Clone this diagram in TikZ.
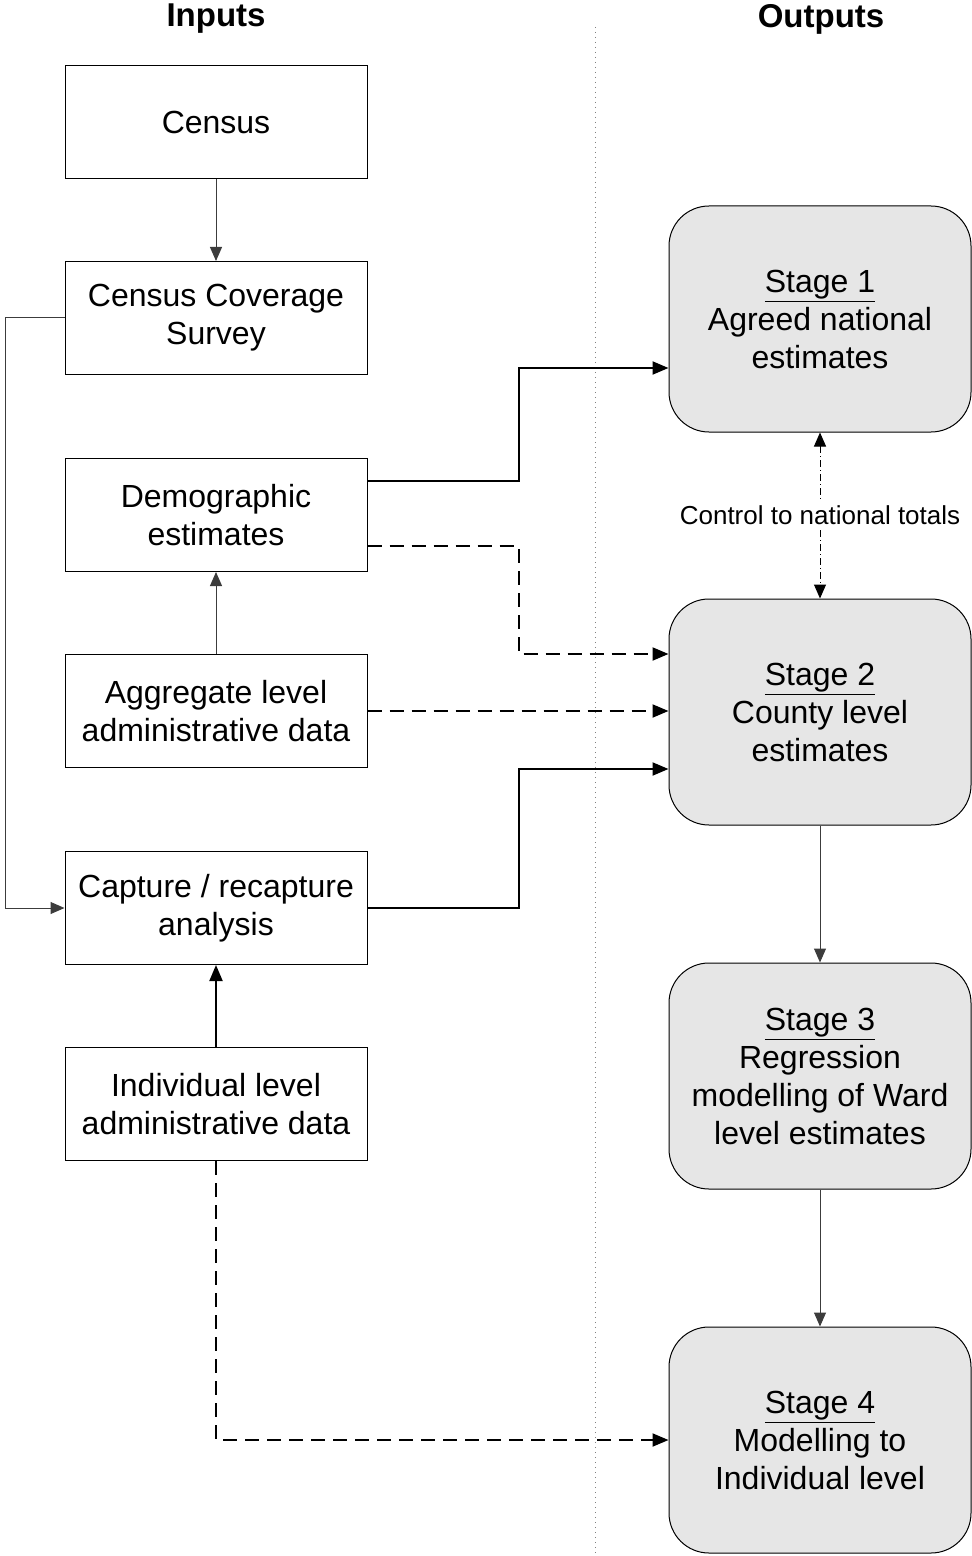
\documentclass[tikz,border=0pt]{standalone}
\usepackage{fontspec}
\setmainfont{Liberation Sans}
\usepackage{tikz}
\usetikzlibrary{arrows.meta,positioning,calc}
\definecolor{stagegray}{RGB}{230,230,230}
\definecolor{linegray}{RGB}{60,60,60}
\newcommand{\stg}[2]{\underline{Stage #1}\\#2}
\tikzset{
  inbox/.style={draw=black, line width=0.5pt, minimum width=151pt, minimum height=56.5pt,
      inner sep=0pt, align=center, font=\fontsize{16}{19}\selectfont},
  outbox/.style={draw=black, fill=stagegray, line width=0.5pt, rounded corners=20pt,
      minimum width=151pt, minimum height=113pt, inner sep=0pt, align=center,
      font=\fontsize{16}{19}\selectfont},
  hdr/.style={font=\fontsize{16.5}{19}\selectfont\bfseries},
  tarr/.style={-{Triangle[length=7pt,width=6pt]}, linegray, line width=0.5pt},
  barr/.style={-{Triangle[length=8pt,width=6.5pt]}, black, line width=1pt},
  darr/.style={barr, dash pattern=on 7pt off 4pt},
  ctrl/.style={{Triangle[length=7pt,width=6pt]}-{Triangle[length=7pt,width=6pt]}, black,
      line width=0.5pt, dash pattern=on 3.5pt off 1.5pt on 0.5pt off 1.5pt},
}
\begin{document}
\begin{tikzpicture}[x=0.5pt,y=-0.5pt]
\useasboundingbox (0,0) rectangle (972,1556);
% headings and divider
\node[hdr] (hin) at (216,19) {Inputs};
\node[hdr] (hout) at (821,19) {Outputs};
\draw[dotted, gray, line width=0.5pt] (595,27) -- (595,1556);
% inputs
\node[inbox] (cen) at (216,122) {Census};
\node[inbox] (ccs) at (216,318) {Census Coverage\\Survey};
\node[inbox] (dem) at (216,515) {Demographic\\estimates};
\node[inbox] (agg) at (216,711) {Aggregate level\\administrative data};
\node[inbox] (cap) at (216,908) {Capture / recapture\\analysis};
\node[inbox] (ind) at (216,1104) {Individual level\\administrative data};
% outputs
\node[outbox] (s1) at (820,319) {\stg{1}{Agreed national\\estimates}};
\node[outbox] (s2) at (820,712) {\stg{2}{County level\\estimates}};
\node[outbox] (s3) at (820,1076) {\stg{3}{Regression\\modelling of Ward\\level estimates}};
\node[outbox] (s4) at (820,1440) {\stg{4}{Modelling to\\Individual level}};
% connectors
\draw[tarr] (cen) -- (ccs);
\draw[tarr] (agg) -- (dem);
\draw[barr] (ind) -- (cap);
\draw[tarr] (ccs.west) -- ++(-59,0) |- (cap.west);
\draw[barr] ([yshift=17pt]dem.east) -- ++(151,0) |- ([yshift=-24.5pt]s1.west);
\draw[darr] ([yshift=-15.5pt]dem.east) -- ++(151,0) |- ([yshift=29pt]s2.west);
\draw[darr] (agg.east) -- (agg.east -| s2.west);
\draw[barr] (cap.east) -- ++(151,0) |- ([yshift=-28.5pt]s2.west);
\draw[darr] (ind.south) |- (s4.west);
\draw[ctrl] (s1) -- node[fill=white, inner sep=2pt, font=\fontsize{13}{15}\selectfont] (ctl) {Control to national totals} (s2);
\draw[tarr] (s2) -- (s3);
\draw[tarr] (s3) -- (s4);
\end{tikzpicture}
\end{document}
